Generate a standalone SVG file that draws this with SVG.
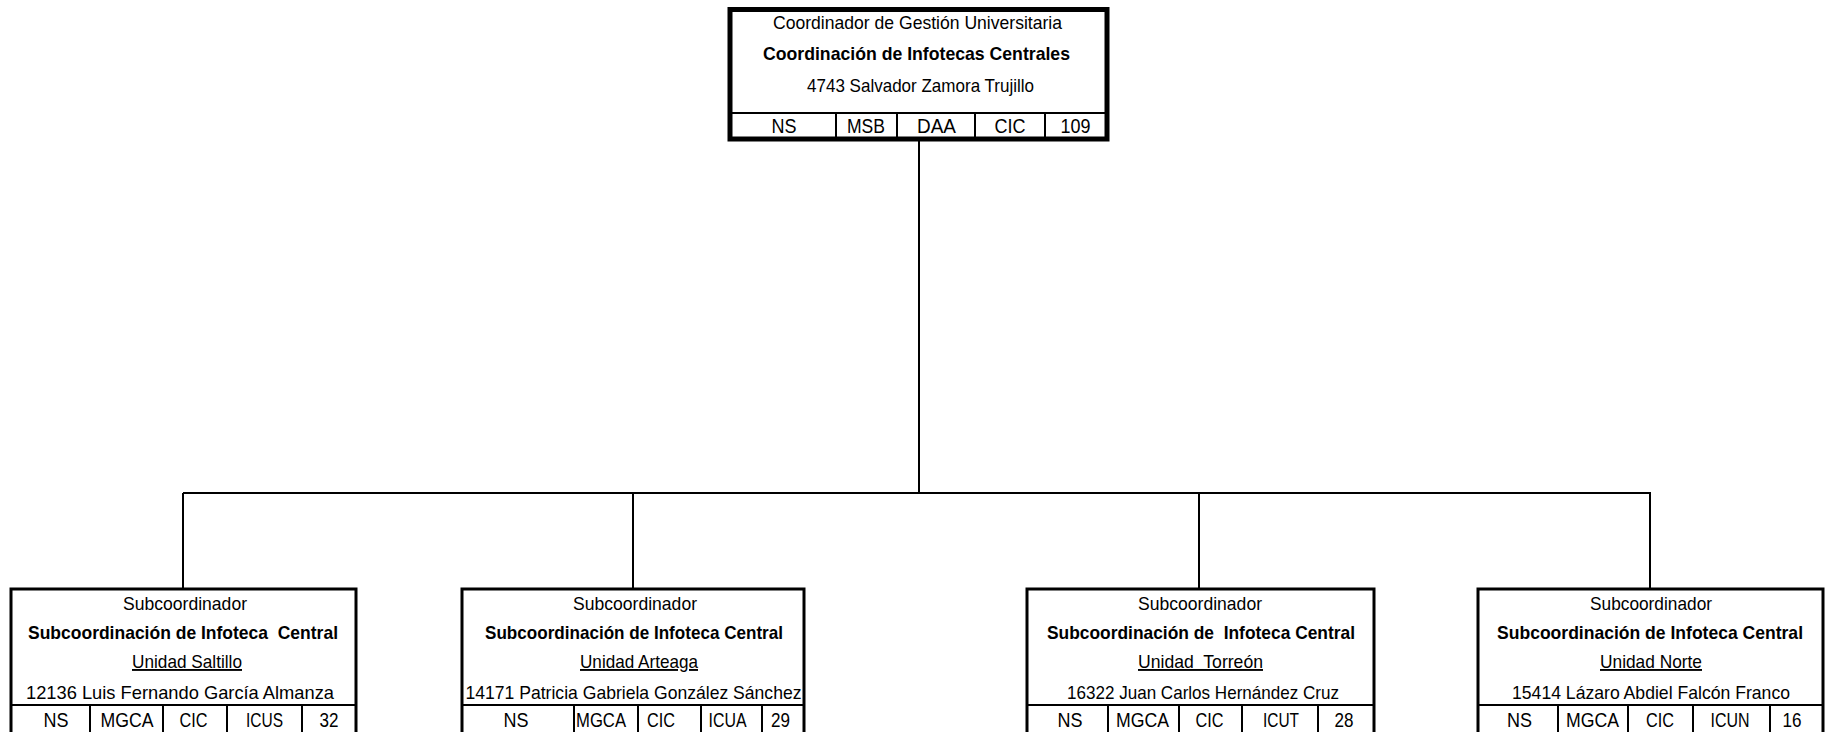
<svg xmlns="http://www.w3.org/2000/svg" width="1829" height="732" viewBox="0 0 1829 732">
<style>
  .bg { fill: #ffffff; }
  .top { fill: #ffffff; stroke: #000000; stroke-width: 5; }
  .box { fill: #ffffff; stroke: #000000; stroke-width: 3; }
  .div { stroke: #000000; stroke-width: 2; fill: none; }
  .conn { stroke: #000000; stroke-width: 2; fill: none; }
  text { font-family: "Liberation Sans", Arial, sans-serif; font-size: 19px; fill: #000000; text-anchor: middle; }
  .b { font-weight: bold; font-size: 18.5px; }
  .u { text-decoration: underline; }
  .c { font-size: 20px; }
</style>
<rect class="bg" x="0" y="0" width="1829" height="732"/>

<g id="connectors">
  <line class="conn" x1="919" y1="141" x2="919" y2="493"/>
  <line class="conn" x1="183" y1="493" x2="1651" y2="493"/>
  <line class="conn" x1="183" y1="493" x2="183" y2="589"/>
  <line class="conn" x1="633" y1="493" x2="633" y2="589"/>
  <line class="conn" x1="1199" y1="493" x2="1199" y2="589"/>
  <line class="conn" x1="1650" y1="493" x2="1650" y2="589"/>
</g>

<g id="node-coordinacion">
  <rect class="top" x="730" y="9.5" width="377" height="129.5"/>
  <line class="div" x1="730" y1="113" x2="1107" y2="113"/>
  <line class="div" x1="836" y1="113" x2="836" y2="139"/>
  <line class="div" x1="897" y1="113" x2="897" y2="139"/>
  <line class="div" x1="975" y1="113" x2="975" y2="139"/>
  <line class="div" x1="1045" y1="113" x2="1045" y2="139"/>
  <text x="917.5" y="29" textLength="289" lengthAdjust="spacingAndGlyphs">Coordinador de Gestión Universitaria</text>
  <text class="b" x="916.5" y="59.5" textLength="307" lengthAdjust="spacingAndGlyphs">Coordinación de Infotecas Centrales</text>
  <text x="920.5" y="91.5" textLength="227" lengthAdjust="spacingAndGlyphs">4743 Salvador Zamora Trujillo</text>
  <text class="c" x="784" y="133" textLength="25" lengthAdjust="spacingAndGlyphs">NS</text>
  <text class="c" x="866" y="133" textLength="38" lengthAdjust="spacingAndGlyphs">MSB</text>
  <text class="c" x="936.5" y="133" textLength="39" lengthAdjust="spacingAndGlyphs">DAA</text>
  <text class="c" x="1010" y="133" textLength="31" lengthAdjust="spacingAndGlyphs">CIC</text>
  <text class="c" x="1075.5" y="133" textLength="30" lengthAdjust="spacingAndGlyphs">109</text>
</g>

<g id="node-saltillo">
  <rect class="box" x="11" y="589" width="345" height="160"/>
  <line class="div" x1="11" y1="705" x2="356" y2="705"/>
  <line class="div" x1="90" y1="705" x2="90" y2="740"/>
  <line class="div" x1="163" y1="705" x2="163" y2="740"/>
  <line class="div" x1="227" y1="705" x2="227" y2="740"/>
  <line class="div" x1="302" y1="705" x2="302" y2="740"/>
  <text x="185" y="610" textLength="124" lengthAdjust="spacingAndGlyphs">Subcoordinador</text>
  <text class="b" x="183" y="639" textLength="310" lengthAdjust="spacingAndGlyphs" xml:space="preserve">Subcoordinación de Infoteca  Central</text>
  <text class="u" x="187" y="668" textLength="110" lengthAdjust="spacingAndGlyphs">Unidad Saltillo</text>
  <text x="180" y="699" textLength="308" lengthAdjust="spacingAndGlyphs">12136 Luis Fernando García Almanza</text>
  <text class="c" x="56" y="727" textLength="25" lengthAdjust="spacingAndGlyphs">NS</text>
  <text class="c" x="127" y="727" textLength="53" lengthAdjust="spacingAndGlyphs">MGCA</text>
  <text class="c" x="193.5" y="727" textLength="28" lengthAdjust="spacingAndGlyphs">CIC</text>
  <text class="c" x="264.5" y="727" textLength="37" lengthAdjust="spacingAndGlyphs">ICUS</text>
  <text class="c" x="329" y="727" textLength="19" lengthAdjust="spacingAndGlyphs">32</text>
</g>

<g id="node-arteaga">
  <rect class="box" x="462" y="589" width="342" height="160"/>
  <line class="div" x1="462" y1="705" x2="804" y2="705"/>
  <line class="div" x1="574" y1="705" x2="574" y2="740"/>
  <line class="div" x1="638" y1="705" x2="638" y2="740"/>
  <line class="div" x1="701" y1="705" x2="701" y2="740"/>
  <line class="div" x1="762" y1="705" x2="762" y2="740"/>
  <text x="635" y="610" textLength="124" lengthAdjust="spacingAndGlyphs">Subcoordinador</text>
  <text class="b" x="634" y="639" textLength="298" lengthAdjust="spacingAndGlyphs">Subcoordinación de Infoteca Central</text>
  <text class="u" x="639" y="668" textLength="118" lengthAdjust="spacingAndGlyphs">Unidad Arteaga</text>
  <text x="633.5" y="699" textLength="336" lengthAdjust="spacingAndGlyphs">14171 Patricia Gabriela González Sánchez</text>
  <text class="c" x="516" y="727" textLength="25" lengthAdjust="spacingAndGlyphs">NS</text>
  <text class="c" x="601" y="727" textLength="50" lengthAdjust="spacingAndGlyphs">MGCA</text>
  <text class="c" x="661" y="727" textLength="28" lengthAdjust="spacingAndGlyphs">CIC</text>
  <text class="c" x="727.5" y="727" textLength="38" lengthAdjust="spacingAndGlyphs">ICUA</text>
  <text class="c" x="780.5" y="727" textLength="19" lengthAdjust="spacingAndGlyphs">29</text>
</g>

<g id="node-torreon">
  <rect class="box" x="1027" y="589" width="347" height="160"/>
  <line class="div" x1="1027" y1="705" x2="1374" y2="705"/>
  <line class="div" x1="1108" y1="705" x2="1108" y2="740"/>
  <line class="div" x1="1179" y1="705" x2="1179" y2="740"/>
  <line class="div" x1="1242" y1="705" x2="1242" y2="740"/>
  <line class="div" x1="1318" y1="705" x2="1318" y2="740"/>
  <text x="1200" y="610" textLength="124" lengthAdjust="spacingAndGlyphs">Subcoordinador</text>
  <text class="b" x="1201" y="639" textLength="308" lengthAdjust="spacingAndGlyphs" xml:space="preserve">Subcoordinación de  Infoteca Central</text>
  <text class="u" x="1200.5" y="668" textLength="125" lengthAdjust="spacingAndGlyphs" xml:space="preserve">Unidad  Torreón</text>
  <text x="1203" y="699" textLength="272" lengthAdjust="spacingAndGlyphs">16322 Juan Carlos Hernández Cruz</text>
  <text class="c" x="1070" y="727" textLength="25" lengthAdjust="spacingAndGlyphs">NS</text>
  <text class="c" x="1142.5" y="727" textLength="53" lengthAdjust="spacingAndGlyphs">MGCA</text>
  <text class="c" x="1209.5" y="727" textLength="28" lengthAdjust="spacingAndGlyphs">CIC</text>
  <text class="c" x="1281" y="727" textLength="36" lengthAdjust="spacingAndGlyphs">ICUT</text>
  <text class="c" x="1344" y="727" textLength="19" lengthAdjust="spacingAndGlyphs">28</text>
</g>

<g id="node-norte">
  <rect class="box" x="1478" y="589" width="345" height="160"/>
  <line class="div" x1="1478" y1="705" x2="1823" y2="705"/>
  <line class="div" x1="1558" y1="705" x2="1558" y2="740"/>
  <line class="div" x1="1628" y1="705" x2="1628" y2="740"/>
  <line class="div" x1="1693" y1="705" x2="1693" y2="740"/>
  <line class="div" x1="1770" y1="705" x2="1770" y2="740"/>
  <text x="1651" y="610" textLength="122" lengthAdjust="spacingAndGlyphs">Subcoordinador</text>
  <text class="b" x="1650" y="639" textLength="306" lengthAdjust="spacingAndGlyphs">Subcoordinación de Infoteca Central</text>
  <text class="u" x="1651" y="668" textLength="102" lengthAdjust="spacingAndGlyphs">Unidad Norte</text>
  <text x="1651" y="699" textLength="278" lengthAdjust="spacingAndGlyphs">15414 Lázaro Abdiel Falcón Franco</text>
  <text class="c" x="1519.5" y="727" textLength="25" lengthAdjust="spacingAndGlyphs">NS</text>
  <text class="c" x="1592.5" y="727" textLength="53" lengthAdjust="spacingAndGlyphs">MGCA</text>
  <text class="c" x="1660" y="727" textLength="28" lengthAdjust="spacingAndGlyphs">CIC</text>
  <text class="c" x="1730" y="727" textLength="39" lengthAdjust="spacingAndGlyphs">ICUN</text>
  <text class="c" x="1792" y="727" textLength="19" lengthAdjust="spacingAndGlyphs">16</text>
</g>
</svg>
